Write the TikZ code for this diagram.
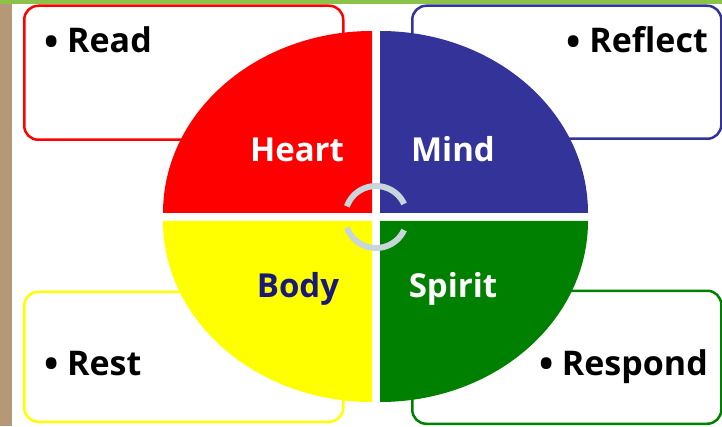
\documentclass[tikz,border=0pt]{standalone}
\usepackage{fontspec}
\setmainfont{Open Sans}
\definecolor{qred}{RGB}{255,0,0}
\definecolor{qblue}{RGB}{51,51,153}
\definecolor{qyellow}{RGB}{255,255,0}
\definecolor{qgreen}{RGB}{0,128,0}
\definecolor{topgreen}{RGB}{139,195,74}
\definecolor{tanstrip}{RGB}{181,153,118}
\definecolor{navy}{RGB}{25,25,120}
\definecolor{loopcol}{RGB}{200,214,220}
\tikzset{
  box/.style={draw, line width=2.5pt, rounded corners=14pt, fill=white, anchor=south west, inner sep=0pt},
  quad/.style={font=\bfseries\fontsize{33}{40}\selectfont, anchor=base, inner sep=0pt},
  item/.style={font=\bfseries\fontsize{34}{40}\selectfont, text=black, inner sep=0pt},
  dot/.style={font=\bfseries\fontsize{38}{40}\selectfont, text=black, inner sep=0pt, anchor=base east},
  loopline/.style={draw=loopcol, line width=6pt}
}
\begin{document}
\begin{tikzpicture}[x=1pt,y=1pt]
\useasboundingbox (0,0) rectangle (722,426);
\fill[white] (0,0) rectangle (722,426);
% frame strips
\fill[topgreen] (0,422) rectangle (722,426);
\fill[tanstrip] (0,0) rectangle (12,422);
% boxes
\node[box, draw=qred, minimum width=319pt, minimum height=134pt] (readbox) at (23,285) {};
\node[box, draw=qblue, minimum width=309pt, minimum height=133pt] (reflectbox) at (411,286) {};
\node[box, draw=qyellow, minimum width=319pt, minimum height=130pt] (restbox) at (23,3) {};
\node[box, draw=qgreen, minimum width=309pt, minimum height=133pt] (respondbox) at (411,1) {};
% quadrants
\fill[qred] (372,213) -- (163,213) arc[start angle=180, end angle=90, x radius=209, y radius=182] -- cycle;
\fill[qblue] (380,213) -- (380,395) arc[start angle=90, end angle=0, x radius=208, y radius=182] -- cycle;
\fill[qyellow] (372,205) -- (163,205) arc[start angle=180, end angle=270, x radius=209, y radius=181] -- cycle;
\fill[qgreen] (380,205) -- (588,205) arc[start angle=0, end angle=-90, x radius=208, y radius=181] -- cycle;
% cycle arcs
\coordinate (hub) at (376,209);
\draw[loopline] ([shift={(160:31)}]hub) arc[start angle=160, end angle=25, radius=31];
\draw[loopline] ([shift={(200:31)}]hub) arc[start angle=200, end angle=335, radius=31];
% quadrant labels
\node[quad, text=white] (heart) at (297,264) {Heart};
\node[quad, text=white] (mind) at (453,264) {Mind};
\node[quad, text=navy] (body) at (298,129) {Body};
\node[quad, text=white] (spirit) at (453,129) {Spirit};
% items
\node[item, anchor=base west] (read) at (67,373) {Read};
\node[item, anchor=base east] (reflect) at (708,373) {Reflect};
\node[item, anchor=base west] (rest) at (67,51) {Rest};
\node[item, anchor=base east] (respond) at (708,51) {Respond};
\node[dot] (readdot) at ([xshift=-8pt,yshift=-2.5pt]read.base west) {•};
\node[dot] (reflectdot) at ([xshift=-8pt,yshift=-2.5pt]reflect.base west) {•};
\node[dot] (restdot) at ([xshift=-8pt,yshift=-2.5pt]rest.base west) {•};
\node[dot] (responddot) at ([xshift=-8pt,yshift=-2.5pt]respond.base west) {•};
\end{tikzpicture}
\end{document}
